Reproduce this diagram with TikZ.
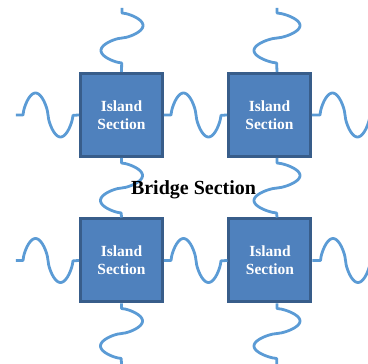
\documentclass[tikz,border=0pt]{standalone}
\usepackage{fontspec}
\setmainfont{Liberation Serif}
\definecolor{boxfill}{HTML}{4F81BD}
\definecolor{boxedge}{HTML}{385D8A}
\definecolor{wire}{HTML}{5B9BD5}
\begin{document}
\begin{tikzpicture}[x=1pt,y=-1pt,
  declare function={wv(\t)=sin(360*\t)/(abs(sin(360*\t))+0.0001)^0.35;},
  island/.style={draw=boxedge, fill=boxfill, line width=3pt,
    minimum width=82pt, minimum height=83pt, inner sep=0pt,
    text=white, font=\bfseries\fontsize{15.5}{18}\selectfont, align=center},
  wave/.style={draw=wire, line width=2.8pt, line join=round},
  title/.style={font=\bfseries\fontsize{20}{24}\selectfont, text=black, anchor=base}]
\useasboundingbox (0,0) rectangle (368,364);
\clip (0,0) rectangle (368,364);

% the four island boxes
\node[island] (tl) at (121.5,115)   {Island\\Section};
\node[island] (tr) at (269.5,115)   {Island\\Section};
\node[island] (bl) at (121.5,260.5) {Island\\Section};
\node[island] (br) at (270,260.5)   {Island\\Section};

% free ends and off-centre attachment points of the wires
\coordinate (w1) at (16,115);
\coordinate (w2) at (16,260.5);
\coordinate (e1) at (380,115);
\coordinate (e2) at (380,260.5);
\coordinate (n1) at (122,8);
\coordinate (n2) at (277,8);
\coordinate (s1) at (122,372);
\coordinate (s2) at (277,372);
\coordinate (trN) at ([xshift=7.5pt]tr.north);
\coordinate (trS) at ([xshift=7.5pt]tr.south);
\coordinate (brN) at ([xshift=7pt]br.north);
\coordinate (brS) at ([xshift=7pt]br.south);

% horizontal wires: short stub, one rounded wave period, stub
\draw[wave, shift={(w1)}] (0,0) -- (7,0) -- plot[domain=0:1,samples=81] ({7+50*\x},{-22*wv(\x)}) -- (tl.west);
\draw[wave, shift={(tl.east)}] (0,0) -- (7,0) -- plot[domain=0:1,samples=81] ({7+50*\x},{-22*wv(\x)}) -- (tr.west);
\draw[wave, shift={(tr.east)}] (0,0) -- (8,0) -- plot[domain=0:1,samples=81] ({8+50*\x},{-22*wv(\x)}) -- (e1);
\draw[wave, shift={(w2)}] (0,0) -- (7,0) -- plot[domain=0:1,samples=81] ({7+50*\x},{-22*wv(\x)}) -- (bl.west);
\draw[wave, shift={(bl.east)}] (0,0) -- (7,0) -- plot[domain=0:1,samples=81] ({7+50*\x},{-22*wv(\x)}) -- (br.west);
\draw[wave, shift={(br.east)}] (0,0) -- (8,0) -- plot[domain=0:1,samples=81] ({8+50*\x},{-22*wv(\x)}) -- (e2);

% vertical wires
\draw[wave, shift={(n1)}] (0,0) -- (0,5) -- plot[domain=0:1,samples=81] ({21*wv(\x)},{5+50*\x}) -- (tl.north);
\draw[wave, shift={(tl.south)}] (0,0) -- (0,5) -- plot[domain=0:1,samples=81] ({21*wv(\x)},{5+50*\x}) -- (bl.north);
\draw[wave, shift={(bl.south)}] (0,0) -- (0,5) -- plot[domain=0:1,samples=81] ({21*wv(\x)},{5+50*\x}) -- (s1);
\draw[wave, shift={(n2)}] (0,0) -- (0,5) -- plot[domain=0:1,samples=81] ({23*wv(\x)},{5+50*\x}) -- (trN);
\draw[wave, shift={(trS)}] (0,0) -- (0,5) -- plot[domain=0:1,samples=81] ({23*wv(\x)},{5+50*\x}) -- (brN);
\draw[wave, shift={(brS)}] (0,0) -- (0,5) -- plot[domain=0:1,samples=81] ({23*wv(\x)},{5+50*\x}) -- (s2);

% centre label
\node[title] (bridge) at (193.5,195) {Bridge Section};
\end{tikzpicture}
\end{document}
